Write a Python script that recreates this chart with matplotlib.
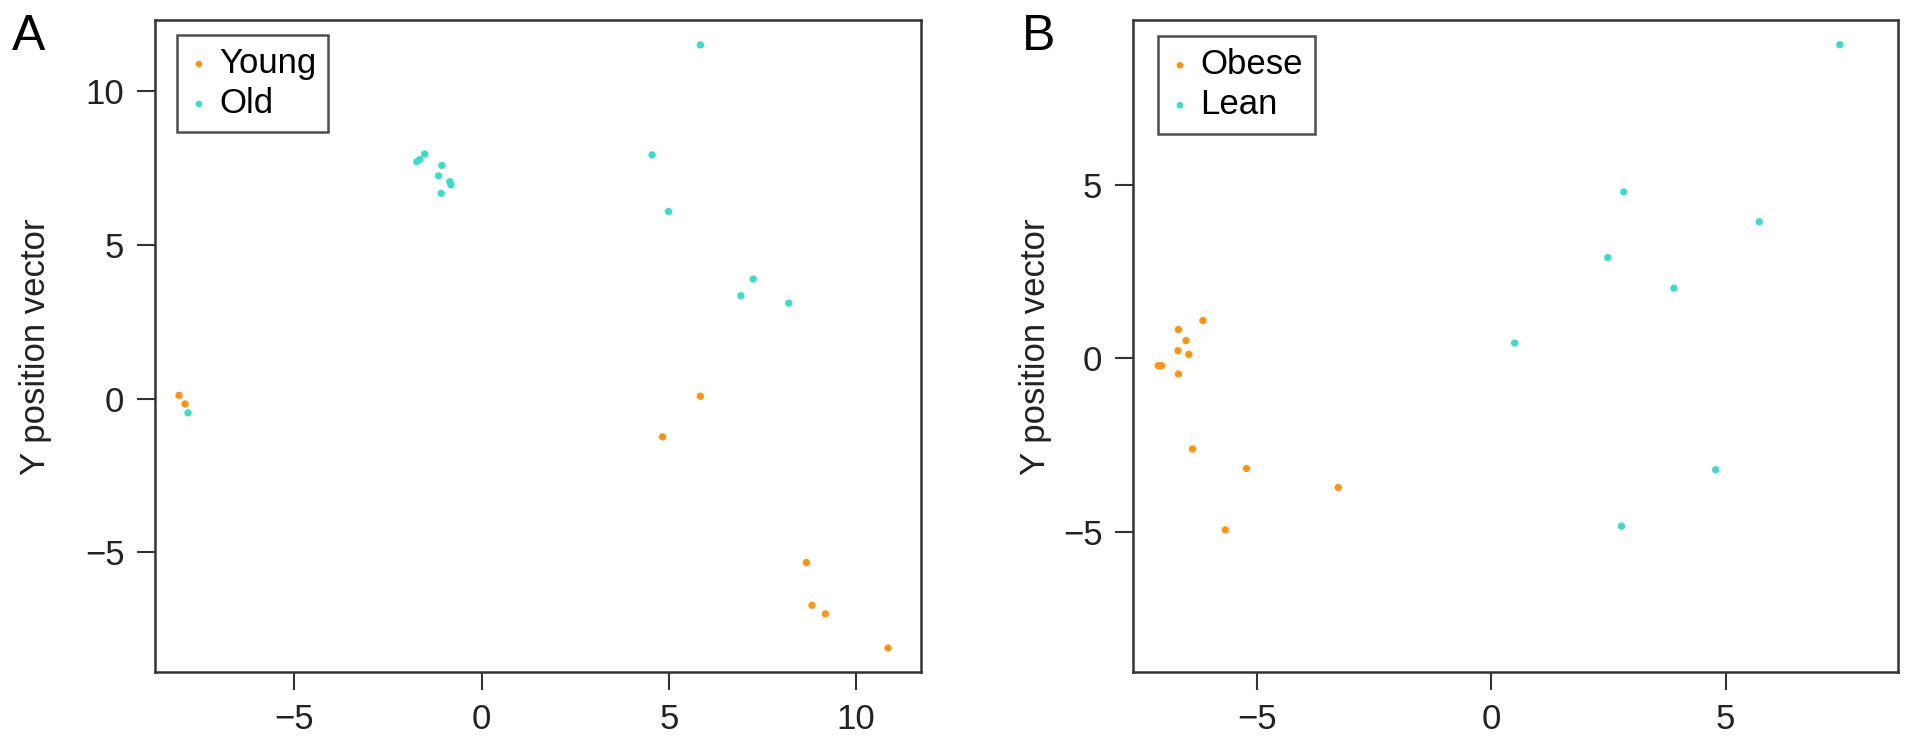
import matplotlib
matplotlib.use('Agg')
from matplotlib import pyplot as plt

# panel A: young vs old
young_x = [-8.08, -7.92, 5.84, 4.83, 8.67, 8.82, 9.18, 10.85]
young_y = [0.11, -0.17, 0.08, -1.24, -5.33, -6.72, -7.00, -8.11]
old_x = [-7.84, 5.84, -1.73, -1.65, -1.52, -1.06, -1.15, -0.85, -0.82, -1.08,
         4.55, 4.99, 6.92, 7.25, 8.20]
old_y = [-0.46, 11.51, 7.71, 7.78, 7.96, 7.59, 7.25, 7.06, 6.96, 6.68,
         7.93, 6.09, 3.35, 3.89, 3.11]

# panel B: obese vs lean
obese_x = [-7.10, -7.03, -6.67, -6.51, -6.68, -6.45, -6.67, -6.15, -6.37,
           -5.22, -3.26, -5.67]
obese_y = [-0.21, -0.21, 0.83, 0.51, 0.22, 0.11, -0.45, 1.09, -2.61,
           -3.17, -3.72, -4.94]
lean_x = [7.44, 2.83, 5.72, 2.49, 3.90, 0.50, 4.79, 2.78]
lean_y = [9.03, 4.79, 3.93, 2.90, 2.02, 0.44, -3.21, -4.83]

ORANGE = '#FF9412'
TURQ = '#3CDCC8'
W, H = 1913, 747
FS = 25

plt.rcParams['font.family'] = ['Liberation Sans', 'DejaVu Sans']


def panel(rect, xs1, ys1, xs2, ys2, labels, xlim, ylim, xticks, yticks, leg_anchor):
    ax = fig.add_axes(rect)
    ax.scatter(xs1, ys1, s=28, color=ORANGE, edgecolors='none', label=labels[0])
    ax.scatter(xs2, ys2, s=28, color=TURQ, edgecolors='none', label=labels[1])
    ax.set_xlim(xlim)
    ax.set_ylim(ylim)
    ax.set_xticks(xticks)
    ax.set_yticks(yticks)
    ax.set_xticklabels([str(t).replace('-', '\u2212') for t in xticks])
    ax.set_yticklabels([str(t).replace('-', '\u2212') for t in yticks])
    ax.tick_params(direction='out', length=13, width=1.5, pad=9,
                   labelsize=FS, color='#333333', labelcolor='#222222')
    for sp in ax.spines.values():
        sp.set_linewidth(1.8)
        sp.set_color('#333333')
    leg = ax.legend(loc='upper left', bbox_to_anchor=leg_anchor, borderaxespad=0,
                    fontsize=FS, frameon=True, fancybox=False, markerscale=0.9,
                    handlelength=0.55, handletextpad=0.3, labelspacing=0.2,
                    borderpad=0.35)
    leg.get_frame().set_edgecolor('#222222')
    leg.get_frame().set_linewidth(1.8)
    return ax


fig = plt.figure(figsize=(W / 100, H / 100), dpi=100)

panel([155 / W, 75 / H, 766 / W, 652 / H], young_x, young_y, old_x, old_y,
      ['Young', 'Old'], (-8.72, 11.73), (-8.89, 12.32),
      [-5, 0, 5, 10], [-5, 0, 5, 10], (0.029, 0.977))
panel([1133 / W, 75 / H, 765 / W, 652 / H], obese_x, obese_y, lean_x, lean_y,
      ['Obese', 'Lean'], (-7.64, 8.68), (-9.03, 9.74),
      [-5, 0, 5], [-5, 0, 5], (0.033, 0.975))

fig.text(36 / W, 1 - 347 / H, 'Y position vector', rotation=90,
         ha='center', va='center', fontsize=FS, color='#222222')
fig.text(1036 / W, 1 - 347 / H, 'Y position vector', rotation=90,
         ha='center', va='center', fontsize=FS, color='#222222')
fig.text(12 / W, 1 - 14 / H, 'A', ha='left', va='top', fontsize=36)
fig.text(1022 / W, 1 - 14 / H, 'B', ha='left', va='top', fontsize=36)

fig.savefig('out.png', dpi=100)
